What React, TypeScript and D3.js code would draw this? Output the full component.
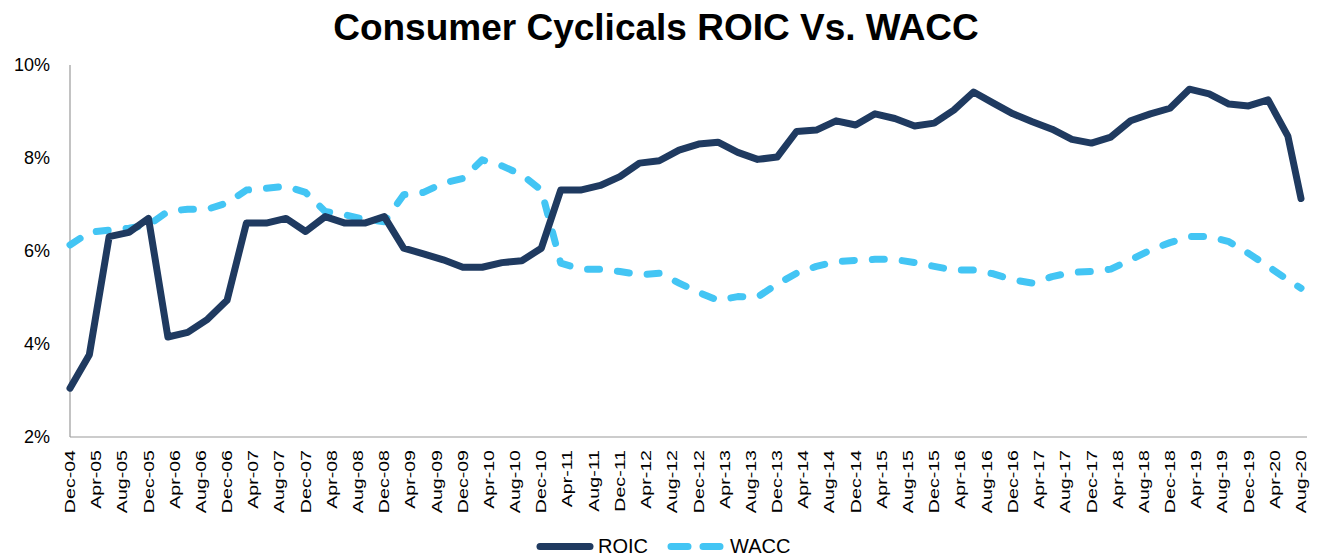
import React from 'react';
import * as d3 from 'd3';

// quarterly observations, last one is the latest (Aug-20)
const periods = [
  '2004-12', '2005-03', '2005-06', '2005-09', '2005-12', '2006-03', '2006-06', '2006-09',
  '2006-12', '2007-03', '2007-06', '2007-09', '2007-12', '2008-03', '2008-06', '2008-09',
  '2008-12', '2009-03', '2009-06', '2009-09', '2009-12', '2010-03', '2010-06', '2010-09',
  '2010-12', '2011-03', '2011-06', '2011-09', '2011-12', '2012-03', '2012-06', '2012-09',
  '2012-12', '2013-03', '2013-06', '2013-09', '2013-12', '2014-03', '2014-06', '2014-09',
  '2014-12', '2015-03', '2015-06', '2015-09', '2015-12', '2016-03', '2016-06', '2016-09',
  '2016-12', '2017-03', '2017-06', '2017-09', '2017-12', '2018-03', '2018-06', '2018-09',
  '2018-12', '2019-03', '2019-06', '2019-09', '2019-12', '2020-03', '2020-06', '2020-08'
];

const roic = [
  3.05, 3.77, 6.31, 6.40, 6.70, 4.15, 4.25, 4.53,
  4.94, 6.60, 6.60, 6.70, 6.42, 6.74, 6.60, 6.60,
  6.74, 6.06, 5.94, 5.81, 5.65, 5.65, 5.75, 5.79,
  6.06, 7.31, 7.31, 7.41, 7.60, 7.89, 7.94, 8.17,
  8.30, 8.34, 8.12, 7.97, 8.02, 8.57, 8.60, 8.80,
  8.71, 8.95, 8.85, 8.69, 8.75, 9.03, 9.42, 9.18,
  8.95, 8.78, 8.62, 8.40, 8.32, 8.45, 8.80, 8.95,
  9.07, 9.48, 9.38, 9.16, 9.12, 9.25, 8.47, 7.13
];

const wacc = [
  6.13, 6.40, 6.45, 6.49, 6.56, 6.85, 6.90, 6.90,
  7.03, 7.31, 7.35, 7.39, 7.26, 6.85, 6.78, 6.68,
  6.63, 7.21, 7.26, 7.46, 7.56, 7.96, 7.83, 7.64,
  7.31, 5.74, 5.61, 5.61, 5.56, 5.49, 5.52, 5.31,
  5.11, 4.94, 5.02, 5.01, 5.29, 5.52, 5.67, 5.77,
  5.80, 5.82, 5.82, 5.75, 5.67, 5.59, 5.59, 5.51,
  5.38, 5.31, 5.45, 5.54, 5.56, 5.61, 5.81, 6.02,
  6.18, 6.31, 6.31, 6.20, 5.95, 5.67, 5.38, 5.20
];

const xTickLabels = [
  'Dec-04', 'Apr-05', 'Aug-05', 'Dec-05', 'Apr-06', 'Aug-06', 'Dec-06', 'Apr-07',
  'Aug-07', 'Dec-07', 'Apr-08', 'Aug-08', 'Dec-08', 'Apr-09', 'Aug-09', 'Dec-09',
  'Apr-10', 'Aug-10', 'Dec-10', 'Apr-11', 'Aug-11', 'Dec-11', 'Apr-12', 'Aug-12',
  'Dec-12', 'Apr-13', 'Aug-13', 'Dec-13', 'Apr-14', 'Aug-14', 'Dec-14', 'Apr-15',
  'Aug-15', 'Dec-15', 'Apr-16', 'Aug-16', 'Dec-16', 'Apr-17', 'Aug-17', 'Dec-17',
  'Apr-18', 'Aug-18', 'Dec-18', 'Apr-19', 'Aug-19', 'Dec-19', 'Apr-20', 'Aug-20'
];

const yTicks = [2, 4, 6, 8, 10];

const WIDTH = 1322;
const HEIGHT = 557;
const ROIC_COLOR = '#1f3a60';
const WACC_COLOR = '#43c5f4';
const FONT = '"Liberation Sans", Arial, sans-serif';

const parsePeriod = d3.timeParse('%Y-%m');
const parseTick = d3.timeParse('%b-%y');

const App: React.FC = () => {
  const dates = periods.map(p => parsePeriod(p) as Date);
  const tickDates = xTickLabels.map(t => parseTick(t) as Date);

  const x = d3.scaleTime()
    .domain([dates[0], dates[dates.length - 1]])
    .range([70, 1301]);

  const y = d3.scaleLinear()
    .domain([2, 10])
    .range([437, 65]);

  const line = d3.line<number>()
    .x((_, i) => x(dates[i]))
    .y(d => y(d));

  const [x0, x1] = x.range();
  const [yBottom, yTop] = y.range();

  return (
    <div style={{ position: 'absolute', left: 0, top: 0 }}>
      <svg width={WIDTH} height={HEIGHT} style={{ display: 'block', background: '#fff' }} fontFamily={FONT}>
        <text x={656} y={40} textAnchor="middle" fontSize={37} fontWeight="bold" fill="#000">
          Consumer Cyclicals ROIC Vs. WACC
        </text>

        {/* axes */}
        <line x1={x0} x2={x0} y1={yTop} y2={yBottom} stroke="#9a9a9a" strokeWidth={1.2} />
        <line x1={x0} x2={x1 + 6} y1={yBottom} y2={yBottom} stroke="#9a9a9a" strokeWidth={1.2} />

        {yTicks.map(t => (
          <text key={t} x={50} y={y(t)} dy="0.35em" textAnchor="end" fontSize={18} fill="#000">
            {t}%
          </text>
        ))}

        {tickDates.map((d, i) => (
          <text
            key={xTickLabels[i]}
            transform={`translate(${x(d)},450) rotate(-90) scale(1.4,1)`}
            dy="0.36em"
            textAnchor="end"
            fontSize={14}
            fill="#000"
          >
            {xTickLabels[i]}
          </text>
        ))}

        {/* series */}
        <path d={line(wacc) ?? ''} fill="none" stroke={WACC_COLOR} strokeWidth={7}
          strokeDasharray="12 18" strokeLinecap="round" strokeLinejoin="round" />
        <path d={line(roic) ?? ''} fill="none" stroke={ROIC_COLOR} strokeWidth={7}
          strokeLinecap="round" strokeLinejoin="round" />

        {/* legend */}
        <line x1={540} x2={590} y1={546.5} y2={546.5} stroke={ROIC_COLOR} strokeWidth={7} strokeLinecap="round" />
        <text x={598} y={553} fontSize={20} fill="#000">ROIC</text>
        <line x1={671} x2={721} y1={546.5} y2={546.5} stroke={WACC_COLOR} strokeWidth={7}
          strokeDasharray="17 15" strokeLinecap="round" />
        <text x={730} y={553} fontSize={20} fill="#000">WACC</text>
      </svg>
    </div>
  );
};

export default App;
